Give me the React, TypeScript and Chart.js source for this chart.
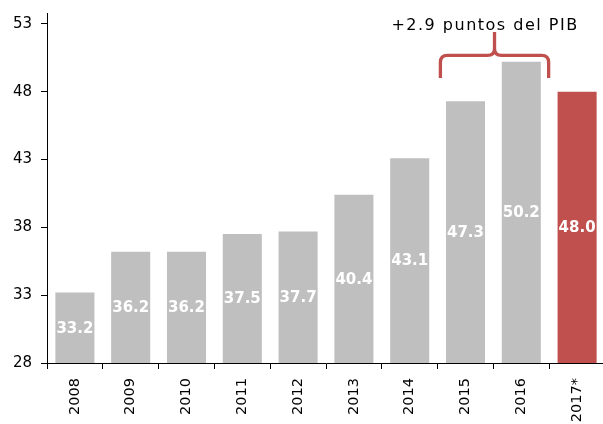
import React, { useEffect, useRef } from "react";
import { Chart, registerables } from "chart.js";

Chart.register(...registerables);

const categories = ["2008", "2009", "2010", "2011", "2012", "2013", "2014", "2015", "2016", "2017*"];
const values = [33.2, 36.2, 36.2, 37.5, 37.7, 40.4, 43.1, 47.3, 50.2, 48.0];
const tickValues = [28, 33, 38, 43, 48, 53];
const annotationText = "+2.9 puntos del PIB";
const braceFrom = "2015";
const braceTo = "2016";

const GRAY = "#BFBFBF";
const RED = "#C0504D";
const FONT = "'DejaVu Sans', sans-serif";

const barLabels = {
  id: "barLabels",
  afterDatasetsDraw(chart: any) {
    const ctx = chart.ctx;
    const xs = chart.scales.x;
    const ys = chart.scales.y;
    const base = ys.getPixelForValue(ys.min);
    ctx.save();
    ctx.fillStyle = "#FFFFFF";
    ctx.font = `bold 15px ${FONT}`;
    ctx.textAlign = "center";
    ctx.textBaseline = "middle";
    values.forEach((v, i) => {
      const x = xs.getPixelForValue(i);
      const top = ys.getPixelForValue(v);
      ctx.fillText(v.toFixed(1), x, (top + base) / 2 + 1);
    });
    ctx.restore();
  },
};

const braceAnnotation = {
  id: "braceAnnotation",
  afterDraw(chart: any) {
    const ctx = chart.ctx;
    const xs = chart.scales.x;
    const ys = chart.scales.y;
    const i0 = categories.indexOf(braceFrom);
    const i1 = categories.indexOf(braceTo);
    const catW = xs.getPixelForValue(1) - xs.getPixelForValue(0);
    const L = xs.getPixelForValue(i0) - 0.45 * catW;
    const R = xs.getPixelForValue(i1) + 0.49 * catW;
    const M = (L + R) / 2;
    const yEnd = ys.getPixelForValue(49.0);
    const yBar = ys.getPixelForValue(50.67);
    const yTip = ys.getPixelForValue(52.4);
    const r = 7;
    ctx.save();
    ctx.strokeStyle = RED;
    ctx.lineWidth = 3.3;
    ctx.lineCap = "butt";
    ctx.lineJoin = "round";
    ctx.beginPath();
    ctx.moveTo(L, yEnd);
    ctx.lineTo(L, yBar + r);
    ctx.quadraticCurveTo(L, yBar, L + r, yBar);
    ctx.lineTo(M - r, yBar);
    ctx.quadraticCurveTo(M, yBar, M, yBar - r);
    ctx.lineTo(M, yTip);
    ctx.moveTo(M, yBar - r);
    ctx.quadraticCurveTo(M, yBar, M + r, yBar);
    ctx.lineTo(R - r, yBar);
    ctx.quadraticCurveTo(R, yBar, R, yBar + r);
    ctx.lineTo(R, yEnd);
    ctx.stroke();

    ctx.fillStyle = "#000000";
    ctx.font = `16px ${FONT}`;
    (ctx as any).letterSpacing = "1.5px";
    ctx.textAlign = "center";
    ctx.textBaseline = "alphabetic";
    ctx.fillText(annotationText, M - 0.17 * catW, ys.getPixelForValue(52.55));
    ctx.restore();
  },
};

export default function App() {
  const ref = useRef<HTMLCanvasElement | null>(null);

  useEffect(() => {
    if (!ref.current) return;
    const chart = new Chart(ref.current, {
      type: "bar",
      data: {
        labels: categories,
        datasets: [
          {
            data: values,
            backgroundColor: values.map((_, i) => (i === values.length - 1 ? RED : GRAY)),
            borderWidth: 0,
            barPercentage: 0.7,
            categoryPercentage: 1,
          },
        ],
      },
      options: {
        responsive: false,
        animation: false,
        devicePixelRatio: 1,
        layout: { padding: { top: 13, right: 1, left: 0, bottom: 0 } },
        plugins: {
          legend: { display: false },
          tooltip: { enabled: false },
        },
        scales: {
          x: {
            grid: {
              display: true,
              drawOnChartArea: false,
              drawTicks: true,
              tickLength: 6,
              color: "#000000",
              offset: true,
            },
            border: { display: true, color: "#000000", width: 1 },
            ticks: {
              minRotation: 90,
              maxRotation: 90,
              autoSkip: false,
              padding: 9,
              color: "#000000",
              font: { family: FONT, size: 14.5 },
            },
            afterFit(scale: any) {
              scale.height = 61;
              scale.paddingLeft = 0;
              scale.paddingRight = 0;
            },
          },
          y: {
            min: 28,
            max: 53.8,
            afterBuildTicks(scale: any) {
              scale.ticks = tickValues.map((v) => ({ value: v }));
            },
            grid: {
              display: true,
              drawOnChartArea: false,
              drawTicks: true,
              tickLength: 6,
              color: "#000000",
            },
            border: { display: true, color: "#000000", width: 1 },
            ticks: {
              padding: 9,
              color: "#000000",
              font: { family: FONT, size: 15 },
            },
            afterFit(scale: any) {
              scale.width = 47;
              scale.paddingTop = 0;
              scale.paddingBottom = 0;
            },
          },
        },
      },
      plugins: [barLabels, braceAnnotation],
    });
    return () => chart.destroy();
  }, []);

  return (
    <div style={{ position: "absolute", left: 0, top: 0, width: 603, height: 424, overflow: "hidden", background: "#fff" }}>
      <canvas ref={ref} width={606} height={424} style={{ width: 606, height: 424, display: "block" }} />
    </div>
  );
}
